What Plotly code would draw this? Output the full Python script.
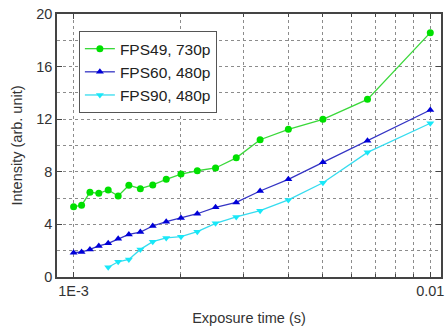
import plotly.graph_objects as go

# Exposure times (s)
exposure = [1/1000, 1/950, 1/900, 1/850, 1/800, 1/750, 1/700, 1/650, 1/600, 1/550,
            1/500, 1/450, 1/400, 1/350, 1/300, 1/250, 1/200, 1/150, 1/100]
exposure_fps90 = exposure[4:]

# Intensity (arb. unit)
fps49_730p = [5.35, 5.45, 6.44, 6.36, 6.62, 6.16, 6.97, 6.72, 7.0, 7.43,
              7.83, 8.08, 8.29, 9.06, 10.44, 11.23, 11.99, 13.51, 18.58]
fps60_480p = [1.85, 1.90, 2.10, 2.36, 2.56, 2.91, 3.24, 3.42, 3.88, 4.21,
              4.49, 4.81, 5.30, 5.67, 6.54, 7.43, 8.72, 10.37, 12.70]
fps90_480p = [0.74, 1.16, 1.34, 2.10, 2.69, 2.97, 3.07, 3.45, 4.08, 4.57,
              5.04, 5.86, 7.17, 9.48, 11.69]

series = [
    ("FPS49, 730p", exposure, fps49_730p, "#3ad83a", "#00e000", "circle"),
    ("FPS60, 480p", exposure, fps60_480p, "#3434c4", "#0000d8", "triangle-up"),
    ("FPS90, 480p", exposure_fps90, fps90_480p, "#36dcef", "#18e8f8", "triangle-down"),
]

fig = go.Figure()
for name, xs, ys, lc, mc, sym in series:
    fig.add_trace(go.Scatter(
        x=xs, y=ys, name=name, mode="lines+markers",
        line=dict(color=lc, width=1.3),
        marker=dict(color=mc, symbol=sym, size=7, line=dict(width=0)),
    ))

grid_minor_x = [k * 1e-3 for k in range(2, 10)]
FONT = "Liberation Sans, Arial, sans-serif"
axis_font = dict(family=FONT, size=14.5, color="#333333")
grid = dict(gridcolor="#8c8c8c", griddash="dot", gridwidth=1)

fig.update_layout(
    width=445, height=326,
    margin=dict(l=57, r=2, t=14, b=49),
    paper_bgcolor="white", plot_bgcolor="white",
    font=axis_font,
    showlegend=True,
    legend=dict(
        x=0.057, y=0.935, xanchor="left", yanchor="top",
        bgcolor="white", bordercolor="#555555", borderwidth=1,
        font=dict(family=FONT, size=15.5, color="#222222"),
        tracegroupgap=0,
    ),
    xaxis=dict(
        type="log",
        range=[-3.0466, -1.970],
        tickvals=[1e-3, 1e-2], ticktext=["1E-3", "0.01"],
        ticks="inside", ticklen=5, tickcolor="#444444",
        showline=True, linecolor="#444444", linewidth=1.5, mirror="ticks",
        showgrid=True, zeroline=False, **grid,
        minor=dict(tickvals=grid_minor_x, ticks="inside", ticklen=3, tickcolor="#444444",
                   showgrid=True, **grid),
        title=dict(text="Exposure time (s)", standoff=15, font=axis_font),
    ),
    yaxis=dict(
        range=[0, 20],
        tickvals=[0, 4, 8, 12, 16, 20],
        ticks="inside", ticklen=5, tickcolor="#444444",
        showline=True, linecolor="#444444", linewidth=1.5, mirror="ticks",
        showgrid=True, zeroline=False, **grid,
        minor=dict(dtick=2, tick0=0, showgrid=True, ticks="", **grid),
        title=dict(text="Intensity (arb. unit)", standoff=10, font=axis_font),
    ),
)

fig.write_html("out.html")
